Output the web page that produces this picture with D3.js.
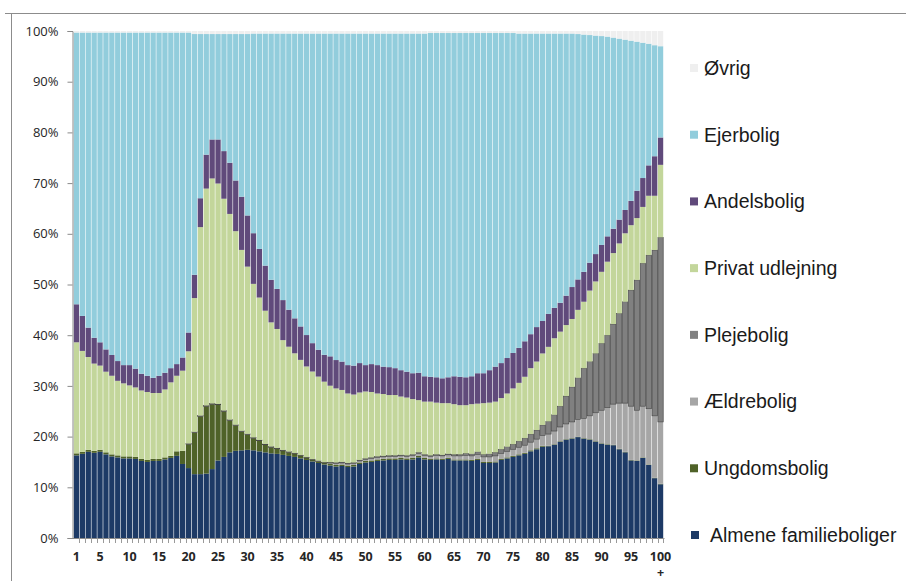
<!DOCTYPE html>
<html>
<head>
<meta charset="utf-8">
<script src="https://cdn.jsdelivr.net/npm/d3@7"></script>
<style>
  html, body { margin: 0; padding: 0; background: #fff; }
  svg { display: block; }
</style>
</head>
<body>
<svg id="chart" width="906" height="581"></svg>
<script>
// Age groups 1..100+ on the x axis
const ages = d3.range(1, 101);
const xTickAges = [1, 5, 10, 15, 20, 25, 30, 35, 40, 45, 50, 55, 60, 65, 70, 75, 80, 85, 90, 95, 100];
const yTickValues = [0, 0.1, 0.2, 0.3, 0.4, 0.5, 0.6, 0.7, 0.8, 0.9, 1.0];

// Share of residents by housing type (percent), one value per age
const almene = [16.3,16.6,17.0,16.8,17.0,16.5,16.1,15.9,15.7,15.7,
  15.6,15.2,15.0,15.2,15.2,15.5,15.8,16.2,14.6,13.8,
  12.6,12.6,12.7,13.6,15.3,16.0,16.9,17.2,17.3,17.4,
  17.3,17.1,16.9,16.7,16.6,16.4,16.2,16.0,15.7,15.4,
  15.1,14.8,14.5,14.3,14.1,14.2,14.0,14.1,14.6,14.9,
  15.0,15.2,15.3,15.4,15.4,15.5,15.4,15.5,15.9,15.5,
  15.4,15.5,15.4,15.6,15.3,15.3,15.3,15.2,15.4,14.8,
  14.8,14.9,15.4,15.7,16.0,16.3,16.6,17.1,17.5,18.0,
  18.1,18.4,19.0,19.4,19.6,19.9,19.6,19.4,19.0,18.6,
  18.4,18.3,17.5,16.9,15.3,15.2,15.8,14.4,11.8,10.6];

const ungdom = [0.4,0.4,0.4,0.4,0.4,0.4,0.4,0.4,0.4,0.4,
  0.4,0.4,0.4,0.4,0.4,0.4,0.4,0.9,2.6,4.7,
  8.2,11.4,13.3,12.8,11.0,9.0,6.3,5.0,3.7,3.0,
  2.4,2.1,1.5,1.2,1.0,0.8,0.7,0.6,0.5,0.4,
  0.3,0.3,0.3,0.3,0.3,0.3,0.3,0.3,0.3,0.3,
  0.3,0.3,0.3,0.3,0.3,0.3,0.3,0.3,0.3,0.3,
  0.2,0.2,0.2,0.2,0.2,0.2,0.2,0.2,0.2,0.2,
  0.2,0.2,0.2,0.2,0.2,0.2,0.2,0.2,0.2,0.2,
  0.1,0.1,0.1,0.1,0.1,0.1,0.1,0.1,0.1,0.1,
  0.1,0.1,0.1,0.1,0.1,0.1,0.1,0.1,0.1,0.1];

const aeldre = [0,0,0,0,0,0,0,0,0,0,
  0,0,0,0,0,0,0,0,0,0,
  0,0,0,0,0,0,0,0,0,0,
  0,0,0,0,0,0,0,0,0,0,
  0,0,0,0.2,0.3,0.3,0.3,0.3,0.3,0.3,
  0.4,0.4,0.4,0.4,0.4,0.4,0.4,0.5,0.5,0.5,
  0.5,0.6,0.6,0.6,0.7,0.7,0.8,0.8,0.9,1.0,
  1.0,1.1,1.1,1.2,1.3,1.4,1.5,1.6,1.8,2.0,
  2.3,2.6,2.8,3.0,3.2,3.4,3.9,4.6,5.6,6.5,
  7.2,8.0,9.0,9.6,10.6,9.9,10.1,11.0,12.2,12.2];

const pleje = [0,0,0,0,0,0,0,0,0,0,
  0,0,0,0,0,0,0,0,0,0.15,
  0.15,0.15,0.15,0.15,0.15,0.15,0.15,0.15,0.15,0.15,
  0.15,0.15,0.15,0.15,0.15,0.15,0.15,0.15,0.15,0.15,
  0.15,0.15,0.15,0.15,0.2,0.2,0.2,0.2,0.2,0.2,
  0.2,0.2,0.2,0.2,0.2,0.2,0.2,0.2,0.2,0.2,
  0.2,0.2,0.2,0.2,0.3,0.3,0.4,0.4,0.5,0.5,
  0.6,0.7,0.8,0.9,1.0,1.2,1.4,1.6,1.8,2.1,
  2.5,3.2,4.1,5.5,6.9,8.2,9.9,10.7,11.7,13.2,
  14.3,15.8,17.7,20.0,22.9,25.7,28.2,30.3,32.7,36.4];

const privat = [21.9,19.9,18.3,17.2,16.6,15.9,15.5,14.7,14.4,14.0,
  13.7,13.5,13.4,13.0,13.0,13.4,14.5,14.9,15.8,18.2,
  26.4,37.2,42.8,44.4,43.5,41.8,40.6,38.2,35.7,33.0,
  30.3,28.1,26.3,24.5,23.5,21.7,20.7,19.7,18.8,17.9,
  17.3,16.6,15.9,15.1,14.6,14.2,13.7,13.4,13.3,13.2,
  12.9,12.4,12.2,11.9,11.9,11.5,11.4,10.9,10.3,10.4,
  10.6,10.2,10.2,10.0,9.9,9.7,9.5,9.8,9.5,10.1,
  10.1,10.0,10.1,10.5,11.0,11.5,12.1,13.0,13.5,14.1,
  14.7,15.1,14.7,14.0,13.4,13.4,13.1,14.0,14.2,14.1,
  14.5,14.0,13.8,13.5,12.8,12.2,11.1,11.7,10.7,14.3];

const andel = [7.5,6.9,5.8,5.1,4.6,4.4,4.1,3.9,3.6,4.0,
  3.7,3.3,3.2,3.0,3.4,3.3,2.8,2.3,2.6,3.7,
  4.6,5.7,6.7,7.7,8.7,9.4,10.1,10.0,10.5,10.1,
  10.0,9.6,8.9,8.4,7.9,7.9,7.3,6.9,6.6,6.2,
  5.6,5.3,5.3,5.8,5.6,5.6,5.6,5.7,5.8,5.2,
  5.5,5.6,5.4,5.5,5.3,5.2,5.1,5.1,5.4,5.0,
  4.9,5.0,4.9,5.1,5.5,5.6,5.5,5.5,6.0,5.9,
  6.4,6.9,6.9,7.0,7.0,6.9,7.0,6.7,6.8,6.4,
  6.5,6.0,5.7,5.8,6.3,6.0,5.9,5.5,5.4,5.3,
  5.0,4.8,4.7,4.6,4.8,5.4,5.7,6.0,7.8,5.4];

const ejer = [53.6,55.9,58.2,60.2,61.1,62.5,63.6,64.8,65.6,65.6,
  66.3,67.3,67.7,68.1,67.7,67.1,66.2,65.4,64.1,59.2,
  47.5,32.4,23.8,20.8,20.8,23.1,25.4,28.9,32.1,35.8,
  39.4,42.5,45.8,48.6,50.4,52.6,54.5,56.2,57.8,59.5,
  61.1,62.4,63.4,63.7,64.4,64.7,65.4,65.5,65.0,65.4,
  65.2,65.4,65.7,65.8,66.0,66.4,66.7,67.0,66.9,67.6,
  67.8,67.9,68.1,67.9,67.7,67.8,67.9,67.7,67.1,67.1,
  66.5,65.8,65.1,64.1,63.1,62.0,60.7,59.3,57.9,56.7,
  55.3,54.1,53.1,51.7,50.0,48.4,46.8,44.9,43.1,41.2,
  39.4,37.7,35.7,33.6,31.6,29.4,26.7,24.0,21.9,18.0];

const ovrig = [0.3,0.3,0.3,0.3,0.3,0.3,0.3,0.3,0.3,0.3,
  0.3,0.3,0.3,0.3,0.3,0.3,0.3,0.3,0.3,0.3,
  0.6,0.6,0.6,0.6,0.6,0.6,0.6,0.6,0.6,0.6,
  0.5,0.5,0.5,0.5,0.5,0.5,0.5,0.5,0.5,0.5,
  0.5,0.5,0.5,0.5,0.5,0.5,0.5,0.5,0.5,0.5,
  0.5,0.5,0.5,0.5,0.5,0.5,0.5,0.5,0.5,0.5,
  0.4,0.4,0.4,0.4,0.4,0.4,0.4,0.4,0.4,0.4,
  0.4,0.4,0.4,0.4,0.4,0.5,0.5,0.5,0.5,0.5,
  0.5,0.5,0.5,0.5,0.5,0.6,0.7,0.8,0.9,1.0,
  1.1,1.3,1.5,1.7,1.9,2.1,2.3,2.5,2.8,3.0];

// Series, bottom of the stack first
const seriesKeys = ["almene", "ungdom", "aeldre", "pleje", "privat", "andel", "ejer", "ovrig"];
const seriesNames = ["Almene familieboliger", "Ungdomsbolig", "Ældrebolig", "Plejebolig",
  "Privat udlejning", "Andelsbolig", "Ejerbolig", "Øvrig"];
const seriesColors = ["#1d3a66", "#4f6228", "#a6a6a6", "#808080",
  "#c3d69b", "#604a7b", "#92cddc", "#efefef"];
const seriesValues = { almene, ungdom, aeldre, pleje, privat, andel, ejer, ovrig };

const rows = ages.map((age, i) => {
  const r = { age };
  seriesKeys.forEach(k => { r[k] = seriesValues[k][i]; });
  return r;
});

const svg = d3.select("#chart");

// Outer frame lines
svg.append("line").attr("x1", 5).attr("x2", 906).attr("y1", 13.5).attr("y2", 13.5)
  .attr("stroke", "#8c8c8c").attr("stroke-width", 1);
svg.append("line").attr("x1", 11.5).attr("x2", 11.5).attr("y1", 13).attr("y2", 581)
  .attr("stroke", "#8c8c8c").attr("stroke-width", 1);

const x = d3.scaleBand().domain(ages).range([73.5, 663.5]).paddingInner(0.1).paddingOuter(0.05);
const y = d3.scaleLinear().domain([0, 1]).range([538, 31]);

const stack = d3.stack().keys(seriesKeys).offset(d3.stackOffsetExpand);
const layers = stack(rows);

const gBars = svg.append("g");
layers.forEach((layer, li) => {
  const key = seriesKeys[li];
  gBars.append("g")
    .attr("fill", seriesColors[li])
    .selectAll("rect")
    .data(layer.filter(d => d[1] - d[0] > 0))
    .join("rect")
    .attr("x", d => x(d.data.age))
    .attr("width", x.bandwidth())
    .attr("y", d => y(d[1]))
    .attr("height", d => y(d[0]) - y(d[1]))
    .attr("stroke", key === "pleje" ? "#3c3c3c" : null)
    .attr("stroke-width", key === "pleje" ? 0.6 : null);
});

// Y axis
const yAxis = d3.axisLeft(y)
  .tickValues(yTickValues)
  .tickFormat(d3.format(".0%"))
  .tickSize(5)
  .tickPadding(9);
const gy = svg.append("g").attr("transform", "translate(72.5,0)").call(yAxis);
gy.select(".domain").attr("stroke", "#8a8a8a");
gy.selectAll(".tick line").attr("stroke", "#8a8a8a");
gy.selectAll(".tick text")
  .attr("font-family", "'Open Sans', 'Liberation Sans', sans-serif")
  .attr("font-size", 13)
  .attr("fill", "#262626");

// X axis: baseline, a small tick between every bar, labels every fifth age
const gx = svg.append("g");
gx.append("line")
  .attr("x1", 72.5).attr("x2", x(100) + x.bandwidth() + x.step() * x.paddingInner() / 2 + 1)
  .attr("y1", y(0) + 0.5).attr("y2", y(0) + 0.5)
  .attr("stroke", "#8a8a8a");
gx.selectAll("line.tk")
  .data(ages)
  .join("line")
  .attr("class", "tk")
  .attr("x1", d => Math.round(x(d) + x.bandwidth() + x.step() * x.paddingInner() / 2) + 0.5)
  .attr("x2", d => Math.round(x(d) + x.bandwidth() + x.step() * x.paddingInner() / 2) + 0.5)
  .attr("y1", y(0)).attr("y2", y(0) + 5)
  .attr("stroke", "#9a9a9a");
gx.selectAll("text.lbl")
  .data(xTickAges)
  .join("text")
  .attr("class", "lbl")
  .attr("x", d => x(d) + x.bandwidth() / 2)
  .attr("y", 561)
  .attr("text-anchor", "middle")
  .attr("font-family", "'Open Sans', 'Liberation Sans', sans-serif")
  .attr("font-weight", "bold")
  .attr("font-size", 12.5)
  .attr("fill", "#262626")
  .text(d => d);
gx.append("text")
  .attr("x", x(100) + x.bandwidth() / 2)
  .attr("y", 577)
  .attr("text-anchor", "middle")
  .attr("font-family", "'Open Sans', 'Liberation Sans', sans-serif")
  .attr("font-weight", "bold")
  .attr("font-size", 12.5)
  .attr("fill", "#262626")
  .text("+");

// Legend, top entry is the top of the stack
const legendOrder = seriesKeys.map((k, i) => i).reverse();
const legendY = d3.scalePoint().domain(legendOrder).range([68, 535]);
const gl = svg.append("g");
legendOrder.forEach(i => {
  const cy = legendY(i);
  const last = seriesKeys[i] === "almene";
  gl.append("rect")
    .attr("x", last ? 691 : 690).attr("y", cy - 4)
    .attr("width", 8).attr("height", 8)
    .attr("fill", seriesColors[i]);
  gl.append("text")
    .attr("x", last ? 710 : 704)
    .attr("y", cy)
    .attr("dy", "0.35em")
    .attr("font-family", "'Liberation Sans', Arial, sans-serif")
    .attr("font-size", 19.5)
    .attr("fill", "#1a1a1a")
    .text(seriesNames[i]);
});
</script>
</body>
</html>
